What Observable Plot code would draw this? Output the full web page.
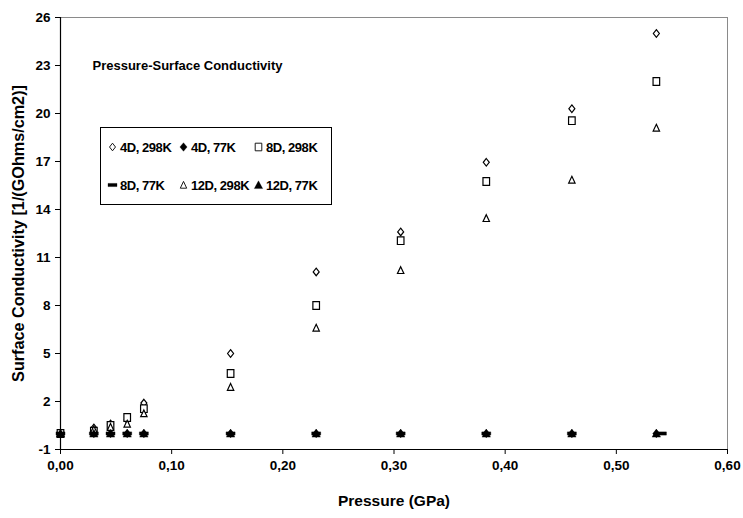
<!DOCTYPE html>
<html><head><meta charset="utf-8">
<script src="https://cdn.jsdelivr.net/npm/d3@7"></script>
<script src="https://cdn.jsdelivr.net/npm/@observablehq/plot@0.6"></script>
<style>
body{margin:0;background:#fff;}
#wrap{position:relative;width:743px;height:518px;font-family:"Liberation Sans",Arial,sans-serif;}
#legend{position:absolute;left:100px;top:127px;width:232px;height:78px;border:1px solid #000;box-sizing:border-box;background:#fff;
 display:grid;grid-template-columns:71px 75px 80px;grid-template-rows:1fr 1fr;padding:0 0 0 7px;align-items:center;}
.item{display:flex;align-items:center;font-weight:bold;font-size:13px;letter-spacing:-0.45px;white-space:nowrap;}
.item svg{margin-right:3px;overflow:visible;}
</style></head>
<body><div id="wrap"><div id="chart"></div><div id="legend"></div></div>
<script>
// ---- data ----
const pressure = [0, 0.03, 0.045, 0.06, 0.075, 0.153, 0.23, 0.306, 0.383, 0.46, 0.536];
const pressure8D77 = [0, 0.03, 0.045, 0.06, 0.075, 0.153, 0.23, 0.306, 0.383, 0.46, 0.541];
const cond4D298 = [0, 0.35, 0.6, 0.85, 1.9, 5.0, 10.1, 12.6, 16.95, 20.3, 25.0];
const cond4D77 = [0, 0, 0, 0, 0, 0, 0, 0, 0, 0, 0];
const cond8D298 = [0, 0.15, 0.5, 1.0, 1.55, 3.75, 8.0, 12.05, 15.75, 19.55, 22.0];
const cond8D77 = [0, 0, 0, 0, 0, 0, 0, 0, 0, 0, 0];
const cond12D298 = [0, 0.25, 0.4, 0.6, 1.25, 2.9, 6.6, 10.2, 13.45, 15.85, 19.1];
const cond12D77 = [0, 0, 0, 0, 0, 0, 0, 0, 0, 0, 0];
const seriesNames = ["4D, 298K", "4D, 77K", "8D, 298K", "8D, 77K", "12D, 298K", "12D, 77K"];
const xTicks = [0, 0.1, 0.2, 0.3, 0.4, 0.5, 0.6];
const yTicks = [-1, 2, 5, 8, 11, 14, 17, 20, 23, 26];
const titleText = "Pressure-Surface Conductivity";
const xLabel = "Pressure (GPa)";
const yLabel = "Surface Conductivity [1/(GOhms/cm2)]";

// ---- marker shapes (Excel-like) ----
const diamondSym = {draw(c){c.moveTo(0,-3.8);c.lineTo(3,0);c.lineTo(0,3.8);c.lineTo(-3,0);c.closePath();}};
const squareSym = {draw(c){c.moveTo(-3.3,-3.8);c.lineTo(3.3,-3.8);c.lineTo(3.3,3.8);c.lineTo(-3.3,3.8);c.closePath();}};
const triangleSym = {draw(c){c.moveTo(0,-3.6);c.lineTo(3.2,3.2);c.lineTo(-3.2,3.2);c.closePath();}};
const dashSym = {draw(c){c.moveTo(-4.5,-1.6);c.lineTo(4.5,-1.6);c.lineTo(4.5,1.6);c.lineTo(-4.5,1.6);c.closePath();}};
const fdiamondSym = {draw(c){c.moveTo(0,-4.3);c.lineTo(3.6,0);c.lineTo(0,4.3);c.lineTo(-3.6,0);c.closePath();}};
const ftriangleSym = {draw(c){c.moveTo(0,-4.2);c.lineTo(4.2,3.6);c.lineTo(-4.2,3.6);c.closePath();}};

const series = [
  {name: seriesNames[0], xs: pressure, ys: cond4D298, sym: diamondSym, hollow: true},
  {name: seriesNames[1], xs: pressure, ys: cond4D77, sym: fdiamondSym, hollow: false},
  {name: seriesNames[2], xs: pressure, ys: cond8D298, sym: squareSym, hollow: true},
  {name: seriesNames[3], xs: pressure8D77, ys: cond8D77, sym: dashSym, hollow: false},
  {name: seriesNames[4], xs: pressure, ys: cond12D298, sym: triangleSym, hollow: true},
  {name: seriesNames[5], xs: pressure, ys: cond12D77, sym: ftriangleSym, hollow: false}
];

const dotMarks = series.map(s => Plot.dot(s.xs.map((x, i) => ({x, y: s.ys[i]})), {
  x: "x", y: "y", r: 4, symbol: s.sym,
  fill: s.hollow ? "white" : "black",
  stroke: "black", strokeWidth: s.hollow ? 1.2 : 0.4
}));

const fmtX = d => d.toFixed(2).replace(".", ",");

const chart = Plot.plot({
  width: 743, height: 518,
  marginLeft: 60, marginRight: 16, marginTop: 17, marginBottom: 69,
  style: {fontFamily: "'Liberation Sans', Arial, sans-serif", fontWeight: "bold", fontSize: "13.5px", color: "#000", background: "white", overflow: "visible"},
  x: {domain: [0, 0.6]},
  y: {domain: [-1, 26]},
  marks: [
    Plot.frame({stroke: "#8a8a8a", strokeWidth: 1}),
    Plot.axisX({ticks: xTicks, tickFormat: fmtX, tickSize: 5, tickPadding: 6, label: null, stroke: "black"}),
    Plot.axisY({ticks: yTicks, tickFormat: d => String(d), tickSize: 5, tickPadding: 5, label: null, stroke: "black"}),
    Plot.ruleX([0], {stroke: "black", strokeWidth: 1.2}),
    Plot.ruleY([-1], {stroke: "black", strokeWidth: 1.2}),
    ...dotMarks,
    Plot.text([titleText], {text: d => d, frameAnchor: "top-left", dx: 32, dy: 43, textAnchor: "start", fontSize: 13, fontWeight: "bold", letterSpacing: "-0.3px"}),
    Plot.text([xLabel], {text: d => d, frameAnchor: "bottom", dy: 56, textAnchor: "middle", fontSize: 15.5, fontWeight: "bold"}),
    Plot.text([yLabel], {text: d => d, frameAnchor: "left", dx: -42, rotate: -90, textAnchor: "middle", fontSize: 16.2, fontWeight: "bold"})
  ]
});
document.getElementById("chart").appendChild(chart);

// legend built from the series list
const legend = document.getElementById("legend");
series.forEach(s => {
  const item = document.createElement("div");
  item.className = "item";
  const path = d3.symbol(s.sym)();
  item.innerHTML = `<svg width="9" height="10" viewBox="-4.5 -5 9 10"><path d="${path}" fill="${s.hollow ? "white" : "black"}" stroke="black" stroke-width="${s.hollow ? 0.9 : 0.3}"/></svg><span>${s.name}</span>`;
  legend.appendChild(item);
});
</script>
</body></html>
